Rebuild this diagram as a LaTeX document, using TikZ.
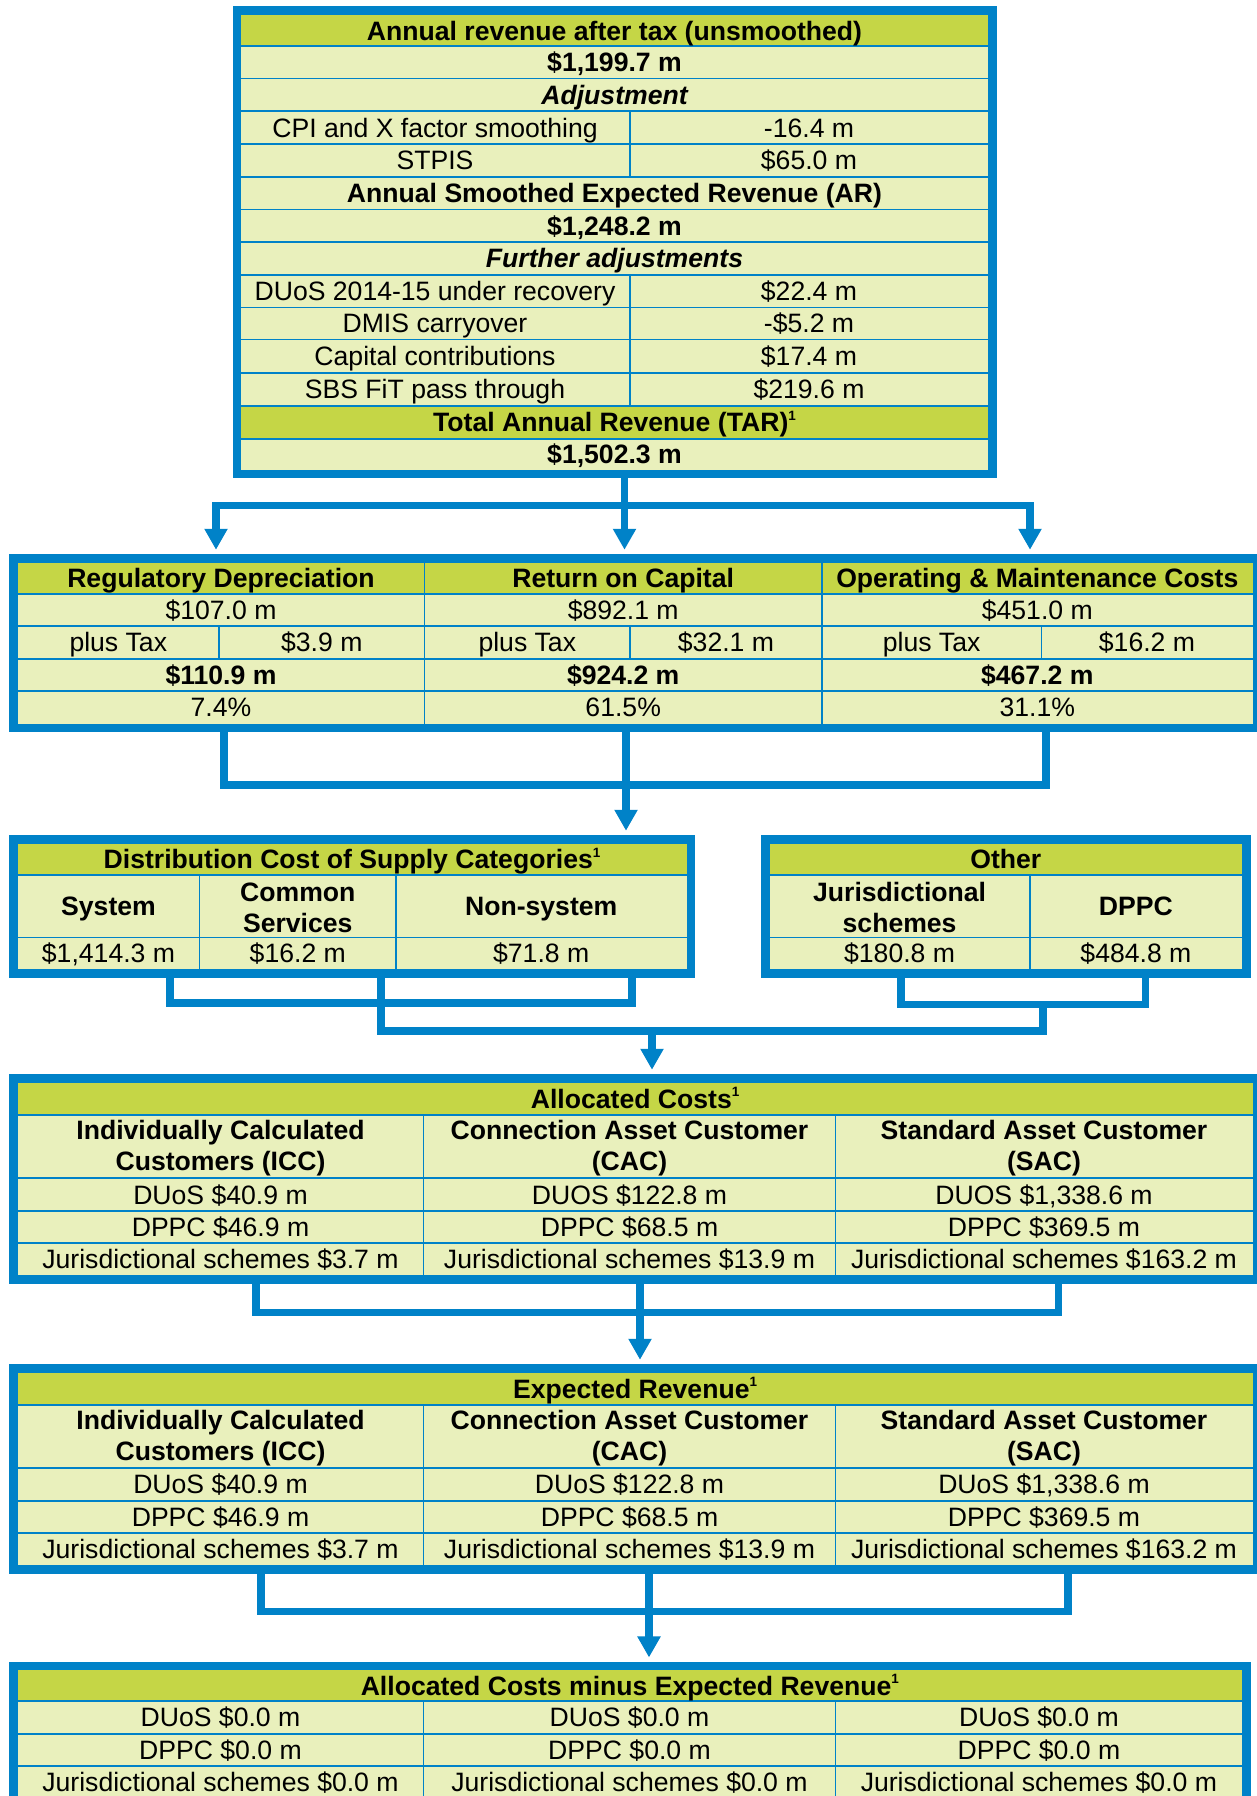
\documentclass[tikz,border=0pt]{standalone}
\usepackage{fontspec}
\setmainfont{Liberation Sans}
\usetikzlibrary{arrows.meta}
\definecolor{bblue}{RGB}{0,130,200}
\definecolor{lime}{RGB}{197,214,70}
\definecolor{pale}{RGB}{233,240,188}
\newcounter{tc}
\newcommand\cellt[4]{\stepcounter{tc}\node[#3] (t\arabic{tc}) at (#1,#2) {#4};}
\newcommand\supo{\raisebox{11.5pt}{\fontsize{13.5}{13}\selectfont 1}}
\tikzset{
 box/.style={rectangle, draw=bblue, line width=8.5pt, fill=pale, inner sep=0pt},
 gl/.style={draw=bblue, line width=1.6pt},
 conn/.style={draw=bblue, line width=7.5pt},
 arr/.style={conn, -{Triangle[width=22pt,length=21pt]}},
 tx/.style={inner sep=0pt, font=\fontsize{26.6}{31}\selectfont, text height=22pt, text depth=3pt},
 tb/.style={tx, font=\fontsize{26.6}{31}\selectfont\bfseries},
 tbi/.style={tx, font=\fontsize{26.6}{31}\selectfont\bfseries\itshape},
 two/.style={inner sep=0pt, align=center, font=\fontsize{26.6}{31}\selectfont\bfseries},
}
\begin{document}
\begin{tikzpicture}[x=1pt,y=-1pt]
\useasboundingbox (0,0) rectangle (1257,1796);
\clip (0,0) rectangle (1257,1796);
\fill[white] (0,0) rectangle (1257,1796);

% ---------- boxes ----------
\node[box, minimum width=755.5pt, minimum height=463.5pt] (top) at (614.5,242) {};
\node[box, minimum width=1243.7pt, minimum height=169.5pt] (cost) at (635.1,643) {};
\node[box, minimum width=677.5pt, minimum height=134pt] (dist) at (352,906.25) {};
\node[box, minimum width=481.1pt, minimum height=134pt] (other) at (1005.8,906.25) {};
\node[box, minimum width=1243.7pt, minimum height=201pt] (alloc) at (635.1,1178.75) {};
\node[box, minimum width=1243.7pt, minimum height=201pt] (exp) at (635.1,1468.75) {};
\node[box, minimum width=1233.2pt, minimum height=136.8pt] (fin) at (629.85,1734.35) {};

% ---------- header fills ----------
\fill[lime] (241,14.5) rectangle (988,46);
\fill[lime] (241,406) rectangle (988,438.7);
\fill[lime] (17.5,562.5) rectangle (1252.7,594);
\fill[lime] (17.5,843.5) rectangle (686.5,875);
\fill[lime] (769.5,843.5) rectangle (1242.1,875);
\fill[lime] (17.5,1082.5) rectangle (1252.7,1115);
\fill[lime] (17.5,1372.5) rectangle (1252.7,1405);
\fill[lime] (17.5,1670.2) rectangle (1242.2,1701);

% ---------- grid lines ----------
\foreach \y in {46,78.3,111,144,176.7,209.3,241.7,275,307.3,339.3,372.7,406,438.7}
  \draw[gl] (241,\y) -- (988,\y);
\draw[gl] (629.7,111) -- (629.7,176.7);
\draw[gl] (629.7,275) -- (629.7,406);

\foreach \y in {594,625.7,659,691} \draw[gl] (17.5,\y) -- (1252.7,\y);
\foreach \x in {424.5,821.9} \draw[gl] (\x,562.5) -- (\x,723.5);
\foreach \x in {219,630,1041.3} \draw[gl] (\x,625.7) -- (\x,659);

\foreach \y in {875,937.5} \draw[gl] (17.5,\y) -- (686.5,\y);
\foreach \x in {199.6,396} \draw[gl] (\x,875) -- (\x,969);
\foreach \y in {875,937.5} \draw[gl] (769.5,\y) -- (1242.1,\y);
\draw[gl] (1029.7,875) -- (1029.7,969);

\foreach \y in {1115,1178,1211,1243} \draw[gl] (17.5,\y) -- (1252.7,\y);
\foreach \x in {423.4,835.5} \draw[gl] (\x,1115) -- (\x,1275);
\foreach \y in {1405,1467.7,1501,1533} \draw[gl] (17.5,\y) -- (1252.7,\y);
\foreach \x in {423.4,835.5} \draw[gl] (\x,1405) -- (\x,1565);
\foreach \y in {1701,1733.8,1766} \draw[gl] (17.5,\y) -- (1242.2,\y);
\foreach \x in {423.4,835.5} \draw[gl] (\x,1701) -- (\x,1798.5);

% ---------- texts: top box ----------
\cellt{614.5}{30.5}{tb}{Annual revenue after tax (unsmoothed)}
\cellt{614.5}{62.15}{tb}{\$1,199.7 m}
\cellt{614.5}{94.65}{tbi}{Adjustment}
\cellt{435}{127.5}{tx}{CPI and X factor smoothing}
\cellt{809}{127.5}{tx}{-16.4 m}
\cellt{435}{160.35}{tx}{STPIS}
\cellt{809}{160.35}{tx}{\$65.0 m}
\cellt{614.5}{193}{tb}{Annual Smoothed Expected Revenue (AR)}
\cellt{614.5}{225.5}{tb}{\$1,248.2 m}
\cellt{614.5}{258.35}{tbi}{Further adjustments}
\cellt{435}{291.15}{tx}{DUoS 2014-15 under recovery}
\cellt{809}{291.15}{tx}{\$22.4 m}
\cellt{435}{323.3}{tx}{DMIS carryover}
\cellt{809}{323.3}{tx}{-\$5.2 m}
\cellt{435}{356}{tx}{Capital contributions}
\cellt{809}{356}{tx}{\$17.4 m}
\cellt{435}{389.35}{tx}{SBS FiT pass through}
\cellt{809}{389.35}{tx}{\$219.6 m}
\cellt{614.5}{422.35}{tb}{Total Annual Revenue (TAR)\supo}
\cellt{614.5}{454}{tb}{\$1,502.3 m}

% ---------- texts: cost box ----------
\cellt{221}{578.25}{tb}{Regulatory Depreciation}
\cellt{623.2}{578.25}{tb}{Return on Capital}
\cellt{1037.3}{578.25}{tb}{Operating \& Maintenance Costs}
\cellt{221}{609.85}{tx}{\$107.0 m}
\cellt{623.2}{609.85}{tx}{\$892.1 m}
\cellt{1037.3}{609.85}{tx}{\$451.0 m}
\cellt{118.3}{642.35}{tx}{plus Tax}
\cellt{321.8}{642.35}{tx}{\$3.9 m}
\cellt{527.3}{642.35}{tx}{plus Tax}
\cellt{726}{642.35}{tx}{\$32.1 m}
\cellt{931.6}{642.35}{tx}{plus Tax}
\cellt{1147}{642.35}{tx}{\$16.2 m}
\cellt{221}{675}{tb}{\$110.9 m}
\cellt{623.2}{675}{tb}{\$924.2 m}
\cellt{1037.3}{675}{tb}{\$467.2 m}
\cellt{221}{707.25}{tx}{7.4\%}
\cellt{623.2}{707.25}{tx}{61.5\%}
\cellt{1037.3}{707.25}{tx}{31.1\%}

% ---------- texts: distribution & other ----------
\cellt{352}{859.25}{tb}{Distribution Cost of Supply Categories\supo}
\cellt{108.5}{906}{tb}{System}
\cellt{297.8}{907.5}{two}{Common\\Services}
\cellt{541.2}{906}{tb}{Non-system}
\cellt{108.5}{953}{tx}{\$1,414.3 m}
\cellt{297.8}{953}{tx}{\$16.2 m}
\cellt{541.2}{953}{tx}{\$71.8 m}
\cellt{1005.8}{859.25}{tb}{Other}
\cellt{899.6}{907.5}{two}{Jurisdictional\\schemes}
\cellt{1135.9}{906}{tb}{DPPC}
\cellt{899.6}{953}{tx}{\$180.8 m}
\cellt{1135.9}{953}{tx}{\$484.8 m}

% ---------- texts: allocated costs ----------
\cellt{635.1}{1098.75}{tb}{Allocated Costs\supo}
\cellt{220.5}{1148}{two}{Individually Calculated\\Customers (ICC)}
\cellt{629.5}{1148}{two}{Connection Asset Customer\\(CAC)}
\cellt{1044}{1148}{two}{Standard Asset Customer\\(SAC)}
\cellt{220.5}{1194.5}{tx}{DUoS \$40.9 m}
\cellt{629.5}{1194.5}{tx}{DUOS \$122.8 m}
\cellt{1044}{1194.5}{tx}{DUOS \$1,338.6 m}
\cellt{220.5}{1227}{tx}{DPPC \$46.9 m}
\cellt{629.5}{1227}{tx}{DPPC \$68.5 m}
\cellt{1044}{1227}{tx}{DPPC \$369.5 m}
\cellt{220.5}{1259}{tx}{Jurisdictional schemes \$3.7 m}
\cellt{629.5}{1259}{tx}{Jurisdictional schemes \$13.9 m}
\cellt{1044}{1259}{tx}{Jurisdictional schemes \$163.2 m}

% ---------- texts: expected revenue ----------
\cellt{635.1}{1388.75}{tb}{Expected Revenue\supo}
\cellt{220.5}{1437.85}{two}{Individually Calculated\\Customers (ICC)}
\cellt{629.5}{1437.85}{two}{Connection Asset Customer\\(CAC)}
\cellt{1044}{1437.85}{two}{Standard Asset Customer\\(SAC)}
\cellt{220.5}{1484.35}{tx}{DUoS \$40.9 m}
\cellt{629.5}{1484.35}{tx}{DUoS \$122.8 m}
\cellt{1044}{1484.35}{tx}{DUoS \$1,338.6 m}
\cellt{220.5}{1517}{tx}{DPPC \$46.9 m}
\cellt{629.5}{1517}{tx}{DPPC \$68.5 m}
\cellt{1044}{1517}{tx}{DPPC \$369.5 m}
\cellt{220.5}{1549}{tx}{Jurisdictional schemes \$3.7 m}
\cellt{629.5}{1549}{tx}{Jurisdictional schemes \$13.9 m}
\cellt{1044}{1549}{tx}{Jurisdictional schemes \$163.2 m}

% ---------- texts: final ----------
\cellt{629.85}{1685.6}{tb}{Allocated Costs minus Expected Revenue\supo}
\cellt{220.5}{1717.4}{tx}{DUoS \$0.0 m}
\cellt{629.5}{1717.4}{tx}{DUoS \$0.0 m}
\cellt{1038.9}{1717.4}{tx}{DUoS \$0.0 m}
\cellt{220.5}{1749.9}{tx}{DPPC \$0.0 m}
\cellt{629.5}{1749.9}{tx}{DPPC \$0.0 m}
\cellt{1038.9}{1749.9}{tx}{DPPC \$0.0 m}
\cellt{220.5}{1782.25}{tx}{Jurisdictional schemes \$0.0 m}
\cellt{629.5}{1782.25}{tx}{Jurisdictional schemes \$0.0 m}
\cellt{1038.9}{1782.25}{tx}{Jurisdictional schemes \$0.0 m}

% ---------- connectors ----------
\coordinate (costtop) at ([yshift=4.25pt]cost.north);
\coordinate (disttop) at ([yshift=4.25pt]dist.north);
\coordinate (alloctop) at ([yshift=4.25pt]alloc.north);
\coordinate (exptop) at ([yshift=4.25pt]exp.north);
\coordinate (fintop) at ([yshift=4.25pt]fin.north);

\coordinate (j1) at (624.5,505.7);
\coordinate (j1L) at (216,505.7);
\coordinate (j1R) at (1030,505.7);
\draw[arr] (top.south -| j1) -- (costtop -| j1);
\draw[arr] (j1) -| (costtop -| j1L);
\draw[arr] (j1) -| (costtop -| j1R);

\coordinate (k1L) at (224,785);
\coordinate (k1R) at (1046,785);
\coordinate (k1M) at (626,785);
\draw[conn] (cost.south -| k1L) -- (k1L) -- (k1R) -- (cost.south -| k1R);
\draw[arr] (cost.south -| k1M) -- (disttop -| k1M);

\coordinate (m1L) at (170,1003);
\coordinate (m1R) at (632,1003);
\draw[conn] (dist.south -| m1L) -- (m1L) -- (m1R) -- (dist.south -| m1R);
\coordinate (n1L) at (901,1004.5);
\coordinate (n1R) at (1145.5,1004.5);
\draw[conn] (other.south -| n1L) -- (n1L) -- (n1R) -- (other.south -| n1R);
\coordinate (p1L) at (381,1031);
\coordinate (p1R) at (1043,1031);
\coordinate (p1M) at (652,1031);
\draw[conn] (dist.south -| p1L) -- (p1L) -- (p1R) -- (p1R |- n1L);
\draw[arr] (p1M) -- (alloctop -| p1M);

\coordinate (q1L) at (256,1312.5);
\coordinate (q1R) at (1058.6,1312.5);
\coordinate (q1M) at (640,1312.5);
\draw[conn] (alloc.south -| q1L) -- (q1L) -- (q1R) -- (alloc.south -| q1R);
\draw[arr] (alloc.south -| q1M) -- (exptop -| q1M);

\coordinate (r1L) at (261,1611.5);
\coordinate (r1R) at (1068,1611.5);
\coordinate (r1M) at (649,1611.5);
\draw[conn] (exp.south -| r1L) -- (r1L) -- (r1R) -- (exp.south -| r1R);
\draw[arr] (exp.south -| r1M) -- (fintop -| r1M);
\end{tikzpicture}
\end{document}
